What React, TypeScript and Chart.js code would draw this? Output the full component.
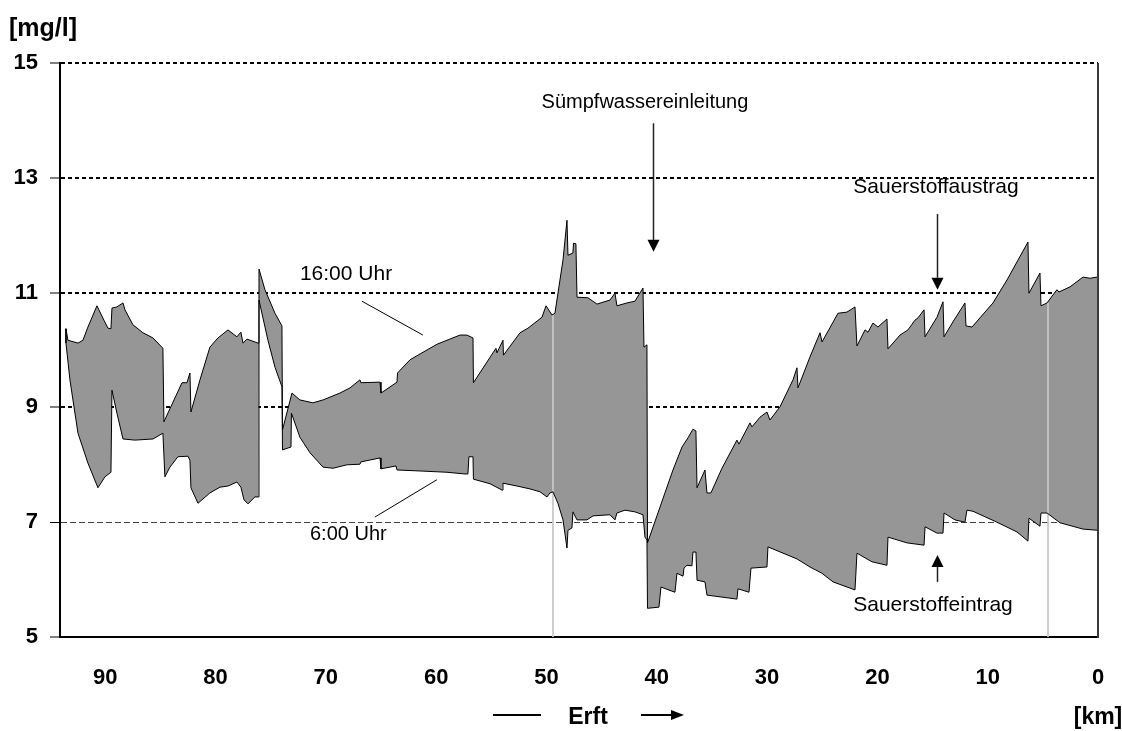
import React, { useEffect, useRef } from 'react';
import { Chart, registerables } from 'chart.js';

Chart.register(...registerables);

const FONT = "'Liberation Sans', Arial, Helvetica, sans-serif";

// Axis ticks
const xTickKm = [90, 80, 70, 60, 50, 40, 30, 20, 10, 0];
const yTickValues = [5, 7, 9, 11, 13, 15];

// 16:00 Uhr profile (km, mg/l)
const upperKm = [
  93.56, 93.38, 92.47, 92.02, 91.57, 90.75, 90.12, 89.75, 89.48, 89.39, 88.94, 88.39, 88.21, 87.49, 86.58, 85.67,
  84.77, 84.68, 83.04, 82.59, 82.32, 82.23, 81.41, 80.51, 79.78, 78.87, 78.06, 77.7, 77.51, 77.15, 76.15, 76.06,
  75.52, 74.61, 73.98, 73.93, 73.07, 72.35, 71.17, 70.26, 68.72, 67.81, 66.91, 66.82, 65.09, 65.0, 63.55, 63.5,
  62.37, 59.93, 57.84, 57.21, 56.66, 56.62, 54.85, 54.58, 54.49, 53.94, 53.9, 52.4, 51.68, 50.41, 50.04, 49.5,
  49.23, 48.5, 48.14, 48.05, 47.6, 47.55, 47.33, 47.23, 46.24, 45.42, 44.24, 43.79, 43.61, 42.7, 41.98, 41.25,
  41.16, 40.89, 40.84, 39.71, 39.26, 38.53, 37.71, 37.17, 36.72, 36.45, 36.35, 35.63, 35.45, 35.09, 34.09, 32.73,
  32.55, 31.55, 31.37, 30.64, 30.01, 29.74, 28.83, 27.65, 27.29, 27.2, 26.11, 25.2, 25.02, 23.57, 22.76, 22.03,
  21.85, 21.12, 20.85, 20.4, 19.95, 19.13, 19.04, 17.95, 17.23, 16.59, 16.32, 15.77, 15.68, 14.6, 14.05, 13.96,
  13.15, 12.06, 11.97, 11.42, 10.7, 9.52, 8.25, 6.35, 6.26, 5.26, 5.17, 4.62, 4.08, 3.72, 3.54, 2.54,
  1.36, 0.73, 0.09,
];
const upperVal = [
  10.37, 10.17, 10.12, 10.17, 10.4, 10.77, 10.52, 10.38, 10.37, 10.73, 10.75, 10.82, 10.7, 10.44, 10.3, 10.21,
  10.03, 8.75, 9.43, 9.43, 9.6, 8.92, 9.48, 10.05, 10.21, 10.35, 10.23, 10.31, 10.12, 10.19, 10.12, 11.41,
  11.05, 10.64, 10.42, 8.61, 9.25, 9.13, 9.08, 9.13, 9.25, 9.34, 9.48, 9.43, 9.44, 9.25, 9.44, 9.6,
  9.83, 10.1, 10.26, 10.26, 10.21, 9.43, 9.95, 10.03, 9.95, 10.17, 9.91, 10.3, 10.38, 10.57, 10.77, 10.61,
  10.64, 11.57, 12.26, 11.65, 11.69, 11.86, 11.85, 10.92, 10.91, 10.8, 10.87, 10.99, 10.77, 10.82, 10.85, 11.08,
  10.05, 10.09, 6.64, 7.26, 7.51, 7.91, 8.31, 8.47, 8.62, 8.59, 7.6, 7.91, 7.51, 7.51, 7.94, 8.43,
  8.36, 8.73, 8.66, 8.83, 8.92, 8.78, 9.01, 9.48, 9.69, 9.34, 9.88, 10.3, 10.14, 10.64, 10.66, 10.75,
  10.07, 10.35, 10.31, 10.47, 10.4, 10.54, 10.02, 10.26, 10.35, 10.52, 10.56, 10.7, 10.23, 10.57, 10.84, 10.23,
  10.49, 10.82, 10.42, 10.4, 10.56, 10.82, 11.22, 11.88, 10.99, 11.34, 10.77, 10.82, 10.96, 11.05, 11.01, 11.1,
  11.27, 11.25, 11.27,
];

// 6:00 Uhr profile (km, mg/l)
const lowerKm = [
  93.56, 93.56, 93.2, 92.47, 91.57, 90.66, 90.03, 89.48, 89.39, 88.94, 88.39, 87.31, 85.67, 84.77, 84.59, 84.13,
  83.41, 82.5, 82.32, 82.23, 81.59, 80.51, 79.6, 78.87, 78.06, 77.7, 77.42, 77.06, 76.43, 76.11, 76.06, 75.25,
  74.61, 73.98, 73.93, 73.16, 73.12, 72.35, 71.44, 70.26, 69.35, 68.09, 66.91, 66.82, 65.09, 65.0, 63.64, 63.55,
  61.2, 59.02, 57.39, 57.12, 57.03, 56.66, 56.62, 55.12, 54.03, 53.94, 52.67, 51.49, 50.59, 49.95, 49.68, 49.41,
  48.96, 48.5, 48.14, 48.05, 47.69, 47.6, 47.23, 46.33, 45.78, 44.24, 43.79, 43.61, 42.88, 41.98, 41.25, 41.07,
  40.89, 40.84, 39.8, 39.62, 38.35, 38.17, 37.62, 37.53, 37.26, 36.81, 36.72, 36.45, 36.35, 35.63, 35.45, 32.73,
  32.64, 31.64, 31.46, 30.01, 29.92, 27.29, 26.11, 25.02, 24.02, 22.03, 21.85, 20.49, 19.13, 19.04, 17.32, 15.77,
  15.68, 14.6, 14.05, 13.96, 12.96, 12.06, 11.88, 11.33, 9.16, 7.34, 6.35, 6.26, 5.26, 5.17, 4.62, 3.45,
  1.36, 0.09,
];
const lowerVal = [
  10.37, 10.12, 9.48, 8.55, 8.03, 7.6, 7.79, 7.87, 9.3, 8.9, 8.45, 8.43, 8.45, 8.55, 7.79, 7.96,
  8.14, 8.15, 8.08, 7.6, 7.33, 7.51, 7.61, 7.63, 7.7, 7.61, 7.39, 7.32, 7.44, 7.44, 10.87, 10.17,
  9.7, 9.36, 8.26, 8.31, 8.9, 8.48, 8.21, 7.96, 7.94, 8.0, 8.01, 8.05, 8.12, 7.93, 7.98, 7.91,
  7.89, 7.87, 7.84, 7.84, 8.14, 8.14, 7.75, 7.67, 7.56, 7.68, 7.63, 7.58, 7.53, 7.44, 7.51, 7.53,
  7.33, 7.04, 6.55, 6.86, 6.9, 7.18, 7.04, 7.04, 7.11, 7.13, 7.04, 7.16, 7.21, 7.18, 7.13, 6.74,
  6.69, 5.5, 5.52, 5.87, 5.78, 6.11, 6.06, 6.2, 6.25, 6.24, 6.48, 6.48, 5.99, 5.96, 5.73, 5.66,
  5.84, 5.78, 6.2, 6.22, 6.57, 6.36, 6.22, 6.11, 5.96, 5.82, 6.46, 6.31, 6.25, 6.74, 6.64, 6.6,
  6.92, 6.81, 6.81, 7.16, 7.04, 7.0, 7.21, 7.19, 7.0, 6.83, 6.67, 7.07, 6.93, 7.16, 7.16, 6.99,
  6.88, 6.86,
];

// Light section boundary lines
const boundaryKm = [49.41, 4.53];
const boundaryTop = [10.61, 10.82];

// Annotations in data units
const callouts = [
  { text: 'Sümpfwassereinleitung', km: 41.07, v: 14.32, align: 'center', size: 20 },
  { text: 'Sauerstoffaustrag', km: 14.69, v: 12.84, align: 'center', size: 21 },
  { text: 'Sauerstoffeintrag', km: 14.96, v: 5.56, align: 'center', size: 21 },
  { text: '16:00 Uhr', km: 72.35, v: 11.32, align: 'left', size: 21 },
  { text: '6:00 Uhr', km: 71.44, v: 6.78, align: 'left', size: 20 },
];
const arrows = [
  { km: 40.34, from: 13.95, to: 11.71 },
  { km: 14.6, from: 12.37, to: 11.05 },
  { km: 14.6, from: 5.96, to: 6.43 },
];
const leaders = [
  { km1: 66.73, v1: 10.85, km2: 61.2, v2: 10.26 },
  { km1: 59.93, v1: 7.74, km2: 65.55, v2: 7.09 },
];

function vArrow(ctx: CanvasRenderingContext2D, x: number, yFrom: number, yTip: number) {
  const dir = Math.sign(yTip - yFrom);
  const head = 12;
  const half = 6;
  ctx.beginPath();
  ctx.moveTo(x, yFrom);
  ctx.lineTo(x, yTip - dir * head);
  ctx.stroke();
  ctx.beginPath();
  ctx.moveTo(x, yTip);
  ctx.lineTo(x - half, yTip - dir * head);
  ctx.lineTo(x + half, yTip - dir * head);
  ctx.closePath();
  ctx.fill();
}

const annotationPlugin = {
  id: 'erftAnnotations',
  afterDraw(chart: any) {
    const { ctx, chartArea: a, scales } = chart;
    const X = (km: number) => scales.x.getPixelForValue(km);
    const Y = (v: number) => scales.y.getPixelForValue(v);
    ctx.save();
    ctx.setLineDash([]);

    // right frame
    ctx.strokeStyle = '#3a3a3a';
    ctx.lineWidth = 2;
    ctx.beginPath();
    ctx.moveTo(a.right, a.top);
    ctx.lineTo(a.right, a.bottom + 1);
    ctx.stroke();

    // callout texts
    ctx.fillStyle = '#000';
    ctx.textBaseline = 'middle';
    for (const c of callouts) {
      ctx.font = `${c.size}px ${FONT}`;
      ctx.textAlign = c.align as CanvasTextAlign;
      ctx.fillText(c.text, X(c.km), Y(c.v));
    }

    // arrows
    ctx.strokeStyle = '#222';
    ctx.fillStyle = '#000';
    ctx.lineWidth = 1.5;
    for (const ar of arrows) {
      vArrow(ctx, Math.round(X(ar.km)) + 0.5, Y(ar.from), Y(ar.to));
    }

    // leader lines
    ctx.strokeStyle = '#000';
    ctx.lineWidth = 1;
    for (const l of leaders) {
      ctx.beginPath();
      ctx.moveTo(X(l.km1), Y(l.v1));
      ctx.lineTo(X(l.km2), Y(l.v2));
      ctx.stroke();
    }

    // axis unit labels
    ctx.fillStyle = '#000';
    ctx.font = `bold 25px ${FONT}`;
    ctx.textAlign = 'left';
    ctx.fillText('[mg/l]', 9, a.top - 34);
    ctx.font = `bold 23px ${FONT}`;
    ctx.textAlign = 'center';
    ctx.fillText('[km]', 1098, a.bottom + 81);

    // flow direction: — Erft →
    const yE = a.bottom + 78;
    ctx.fillText('Erft', 588, a.bottom + 81);
    ctx.strokeStyle = '#000';
    ctx.lineWidth = 2;
    ctx.beginPath();
    ctx.moveTo(493, yE);
    ctx.lineTo(541, yE);
    ctx.stroke();
    ctx.beginPath();
    ctx.moveTo(641, yE);
    ctx.lineTo(672, yE);
    ctx.stroke();
    ctx.beginPath();
    ctx.moveTo(684, yE);
    ctx.lineTo(671, yE - 5);
    ctx.lineTo(671, yE + 5);
    ctx.closePath();
    ctx.fill();

    ctx.restore();
  },
};

export default function App() {
  const ref = useRef<HTMLCanvasElement>(null);

  useEffect(() => {
    document.body.style.margin = '0';
    const canvas = ref.current;
    if (!canvas) return;

    const upper = upperKm.map((x, i) => ({ x, y: upperVal[i] }));
    const lower = lowerKm.map((x, i) => ({ x, y: lowerVal[i] }));
    const boundaries: { x: number; y: number | null }[] = [];
    boundaryKm.forEach((km, i) => {
      if (i > 0) boundaries.push({ x: (km + boundaryKm[i - 1]) / 2, y: null });
      boundaries.push({ x: km, y: boundaryTop[i] });
      boundaries.push({ x: km, y: 5 });
    });

    const chart = new Chart(canvas, {
      type: 'line',
      data: {
        datasets: [
          {
            label: '16:00 Uhr',
            data: upper,
            borderColor: '#000',
            borderWidth: 1,
            pointRadius: 0,
            tension: 0,
            fill: '+1',
            backgroundColor: '#969696',
          },
          {
            label: '6:00 Uhr',
            data: lower,
            borderColor: '#000',
            borderWidth: 1,
            pointRadius: 0,
            tension: 0,
            fill: false,
          },
          {
            label: 'Abschnitte',
            data: boundaries as any,
            borderColor: '#c8c8c8',
            borderWidth: 1,
            pointRadius: 0,
            fill: false,
            spanGaps: false,
          },
        ],
      },
      options: {
        responsive: false,
        animation: false,
        devicePixelRatio: 1,
        layout: { padding: { left: 0, right: 24, top: 63, bottom: 0 } },
        plugins: {
          legend: { display: false },
          tooltip: { enabled: false },
          filler: { drawTime: 'beforeDatasetsDraw' } as any,
        },
        scales: {
          x: {
            type: 'linear',
            reverse: true,
            min: 0,
            max: 94.1,
            afterBuildTicks: (s: any) => {
              s.ticks = xTickKm.map((value) => ({ value }));
            },
            afterFit: (s: any) => {
              s.height = 94;
            },
            grid: { display: true, drawOnChartArea: false, drawTicks: true, tickLength: 26, tickWidth: 0 },
            border: { display: true, color: '#000', width: 2 },
            ticks: {
              color: '#000',
              font: { family: FONT, size: 22, weight: 'bold' },
              padding: 2,
              maxRotation: 0,
              autoSkip: false,
            },
          },
          y: {
            type: 'linear',
            min: 5,
            max: 15,
            afterBuildTicks: (s: any) => {
              s.ticks = yTickValues.map((value) => ({ value }));
            },
            afterFit: (s: any) => {
              s.width = 60;
            },
            grid: {
              drawOnChartArea: true,
              drawTicks: true,
              tickLength: 10,
              tickColor: '#000',
              tickWidth: 1,
              color: (c: any) => (c.tick && c.tick.value === 7 ? '#444' : '#000'),
              lineWidth: (c: any) => (!c.tick || c.tick.value === 5 ? 0 : c.tick.value === 7 ? 1 : 2),
            },
            border: {
              display: true,
              color: '#000',
              width: 2,
              dash: (c: any) => (c.tick ? (c.tick.value === 7 ? [6, 3] : [4, 3]) : []),
            } as any,
            ticks: {
              color: '#000',
              font: { family: FONT, size: 22, weight: 'bold' },
              padding: 12,
            },
          },
        },
      },
      plugins: [annotationPlugin],
    });

    return () => chart.destroy();
  }, []);

  return <canvas ref={ref} width={1122} height={731} style={{ display: 'block' }} />;
}
